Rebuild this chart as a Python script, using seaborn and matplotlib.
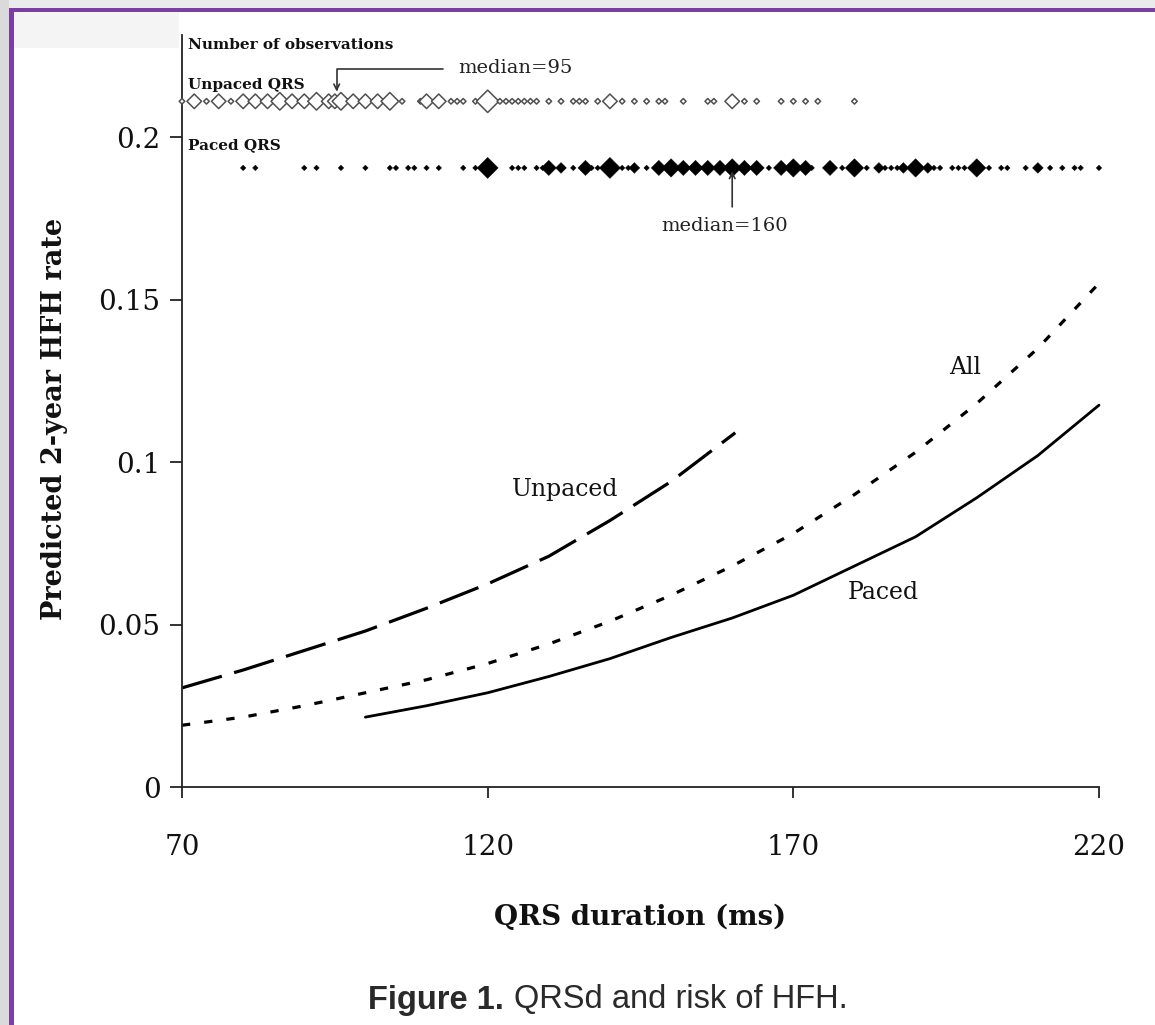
import numpy as np
import pandas as pd
import matplotlib
matplotlib.use("Agg")
import matplotlib.pyplot as plt
import seaborn as sns
from matplotlib.patches import Rectangle

# ---------------- data ----------------
all_qrs = [70, 80, 90, 100, 110, 120, 130, 140, 150, 160, 170, 180, 190, 200, 210, 220]
all_rate = [0.019, 0.0215, 0.025, 0.029, 0.033, 0.038, 0.044, 0.051, 0.059, 0.068,
            0.078, 0.090, 0.103, 0.118, 0.135, 0.155]

unpaced_qrs = [70, 80, 90, 100, 110, 120, 130, 140, 150, 160.5]
unpaced_rate = [0.0305, 0.036, 0.042, 0.048, 0.055, 0.0625, 0.071, 0.082, 0.094, 0.109]

paced_qrs = [100, 110, 120, 130, 140, 150, 160, 170, 180, 190, 200, 210, 220]
paced_rate = [0.0215, 0.025, 0.029, 0.034, 0.0395, 0.046, 0.052, 0.059, 0.068, 0.077,
              0.089, 0.102, 0.1175]

obs_unpaced_qrs = [70, 72, 74, 76, 78, 80, 82, 84, 86, 88, 90, 92, 94, 95, 96, 98, 100, 102,
                   104, 106, 109, 110, 112, 114, 115, 116, 118, 120, 122, 123, 124, 125, 126,
                   127, 128, 130, 132, 134, 135, 136, 138, 140, 142, 144, 146, 148, 149, 152,
                   156, 157, 160, 162, 164, 168, 170, 172, 174, 180]
obs_unpaced_n = [1, 2, 1, 2, 1, 2, 2, 2, 3, 2, 2, 3, 2, 2, 3, 2, 2, 2,
                 3, 1, 1, 2, 2, 1, 1, 1, 1, 4, 1, 1, 1, 1, 1,
                 1, 1, 1, 1, 1, 1, 1, 1, 2, 1, 1, 1, 1, 1, 1,
                 1, 1, 2, 1, 1, 1, 1, 1, 1, 1]

obs_paced_qrs = [80, 82, 90, 92, 96, 100, 104, 105, 107, 108, 110, 112, 116, 118, 120, 124,
                 125, 126, 128, 129, 130, 132, 134, 136, 137, 138, 140, 142, 143, 144, 146,
                 148, 150, 152, 154, 156, 158, 160, 162, 164, 166, 168, 170, 172, 173, 176,
                 178, 180, 182, 184, 185, 186, 187, 188, 190, 192, 193, 194, 196, 197, 198,
                 199, 200, 202, 204, 205, 208, 210, 212, 214, 216, 217, 220]
obs_paced_n = [1, 1, 1, 1, 1, 1, 1, 1, 1, 1, 1, 1, 1, 1, 5, 1,
               1, 1, 1, 1, 3, 2, 1, 3, 1, 1, 5, 1, 1, 2, 1,
               3, 4, 3, 3, 3, 3, 4, 3, 3, 1, 3, 4, 3, 1, 3,
               1, 4, 1, 2, 1, 1, 1, 2, 4, 2, 1, 1, 1, 1, 1,
               1, 4, 1, 1, 1, 1, 2, 1, 1, 1, 1, 1]

x_ticks = [70, 120, 170, 220]
x_tick_labels = ["70", "120", "170", "220"]
y_ticks = [0, 0.05, 0.1, 0.15, 0.2]
y_tick_labels = ["0", "0.05", "0.1", "0.15", "0.2"]

# ---------------- style ----------------
sns.set_style("ticks")
plt.rcParams['font.family'] = ['DejaVu Serif']
plt.rcParams['axes.edgecolor'] = '#222222'
plt.rcParams['xtick.color'] = '#222222'
plt.rcParams['ytick.color'] = '#222222'

W, H = 1155, 1025
fig = plt.figure(figsize=(W / 100, H / 100), dpi=100)
fig.patch.set_facecolor('white')

# page decorations (gray page margin and purple frame)
purple = '#7b3fa4'
fig.patches.append(Rectangle((0, 0), 9 / W, 1, transform=fig.transFigure,
                             facecolor='#dadada', edgecolor='none', zorder=-10))
fig.patches.append(Rectangle((9 / W, (H - 8) / H), 1, 8 / H, transform=fig.transFigure,
                             facecolor='#ebebeb', edgecolor='none', zorder=-10))
fig.patches.append(Rectangle((14 / W, (H - 48) / H), 165 / W, 36 / H, transform=fig.transFigure,
                             facecolor='#f4f4f4', edgecolor='none', zorder=-10))
fig.patches.append(Rectangle((9 / W, 0), 5 / W, (H - 8) / H, transform=fig.transFigure,
                             facecolor=purple, edgecolor='none', zorder=-9))
fig.patches.append(Rectangle((9 / W, (H - 12) / H), 1, 4 / H, transform=fig.transFigure,
                             facecolor=purple, edgecolor='none', zorder=-9))

ax = fig.add_axes([182 / W, 238 / H, 917 / W, 752 / H])
ax.set_facecolor('none')

# ---------------- curves ----------------
sns.lineplot(x=unpaced_qrs, y=unpaced_rate, color='black', linewidth=2.3,
             linestyle=(0, (13, 4)), ax=ax, clip_on=False)
sns.lineplot(x=all_qrs, y=all_rate, color='black', linewidth=2.3,
             linestyle=(0, (2.6, 4.4)), ax=ax, clip_on=False)
sns.lineplot(x=paced_qrs, y=paced_rate, color='black', linewidth=2.0, ax=ax, clip_on=False)

# ---------------- observation rows ----------------
df_u = pd.DataFrame({'qrs': obs_unpaced_qrs, 'n': obs_unpaced_n})
df_u['row'] = 0.211
df_p = pd.DataFrame({'qrs': obs_paced_qrs, 'n': obs_paced_n})
df_p['row'] = 0.1905

sns.scatterplot(data=df_u, x='qrs', y='row', size='n',
                sizes={1: 8, 2: 55, 3: 80, 4: 130}, marker='D',
                color='white', edgecolor='#505050', linewidth=1.1,
                legend=False, ax=ax, clip_on=False, zorder=3)
sns.scatterplot(data=df_p, x='qrs', y='row', size='n',
                sizes={1: 8, 2: 30, 3: 60, 4: 88, 5: 115}, marker='D',
                color='black', edgecolor='black', linewidth=0.3,
                legend=False, ax=ax, clip_on=False, zorder=3)

# ---------------- axes ----------------
ax.set_xlim(70, 220)
ax.set_ylim(0, 0.2314)
ax.set_xticks(x_ticks)
ax.set_xticklabels(x_tick_labels)
ax.set_yticks(y_ticks)
ax.set_yticklabels(y_tick_labels)
sns.despine(ax=ax)
for s in ['left', 'bottom']:
    ax.spines[s].set_linewidth(1.3)
ax.tick_params(axis='x', direction='out', length=8, width=1.3, pad=26, labelsize=20,
               labelcolor='#111111')
ax.tick_params(axis='y', direction='out', length=8.5, width=1.3, pad=7, labelsize=20,
               labelcolor='#111111')

ax.set_xlabel('QRS duration (ms)', fontsize=20, fontweight='bold', color='#111111')
ax.set_ylabel('Predicted 2-year HFH rate', fontsize=19.5, fontweight='bold', color='#111111')
ax.xaxis.set_label_coords(0.5, -0.155)
ax.yaxis.set_label_coords(-0.124, 0.49)

# ---------------- texts ----------------
ax.text(71, 0.2283, 'Number of observations', fontsize=11, fontweight='bold',
        ha='left', va='center', color='#111111')
ax.text(71, 0.2160, 'Unpaced QRS', fontsize=11, fontweight='bold',
        ha='left', va='center', color='#111111')
ax.text(71, 0.1975, 'Paced QRS', fontsize=11, fontweight='bold',
        ha='left', va='center', color='#111111')

ax.text(115.2, 0.2212, 'median=95', fontsize=14, ha='left', va='center', color='#222222')
ax.annotate('', xy=(95.3, 0.2140), xytext=(112.7, 0.2209),
            arrowprops=dict(arrowstyle='->', color='#333333', lw=1.2,
                            connectionstyle='angle,angleA=0,angleB=90,rad=0',
                            shrinkA=0, shrinkB=0))
ax.text(158.7, 0.1726, 'median=160', fontsize=14, ha='center', va='center', color='#222222')
ax.annotate('', xy=(160, 0.1895), xytext=(160, 0.1785),
            arrowprops=dict(arrowstyle='->', color='#333333', lw=1.2,
                            shrinkA=0, shrinkB=0))

ax.text(132.7, 0.0914, 'Unpaced', fontsize=17, ha='center', va='center', color='#111111')
ax.text(198.1, 0.129, 'All', fontsize=17, ha='center', va='center', color='#111111')
ax.text(184.7, 0.0597, 'Paced', fontsize=17, ha='center', va='center', color='#111111')

# ---------------- caption ----------------
renderer = fig.canvas.get_renderer()
t1 = fig.text(368 / W, 25 / H, 'Figure 1.', family=['Liberation Sans', 'DejaVu Sans'],
              weight='bold', size=23.5, color='#2a2a2a', ha='left', va='center')
bb = t1.get_window_extent(renderer)
fig.text((bb.x1 + 10) / W, 25 / H, 'QRSd and risk of HFH.',
         family=['Liberation Sans', 'DejaVu Sans'], size=23.5, color='#2a2a2a',
         ha='left', va='center')

fig.savefig('out.png', dpi=100)
